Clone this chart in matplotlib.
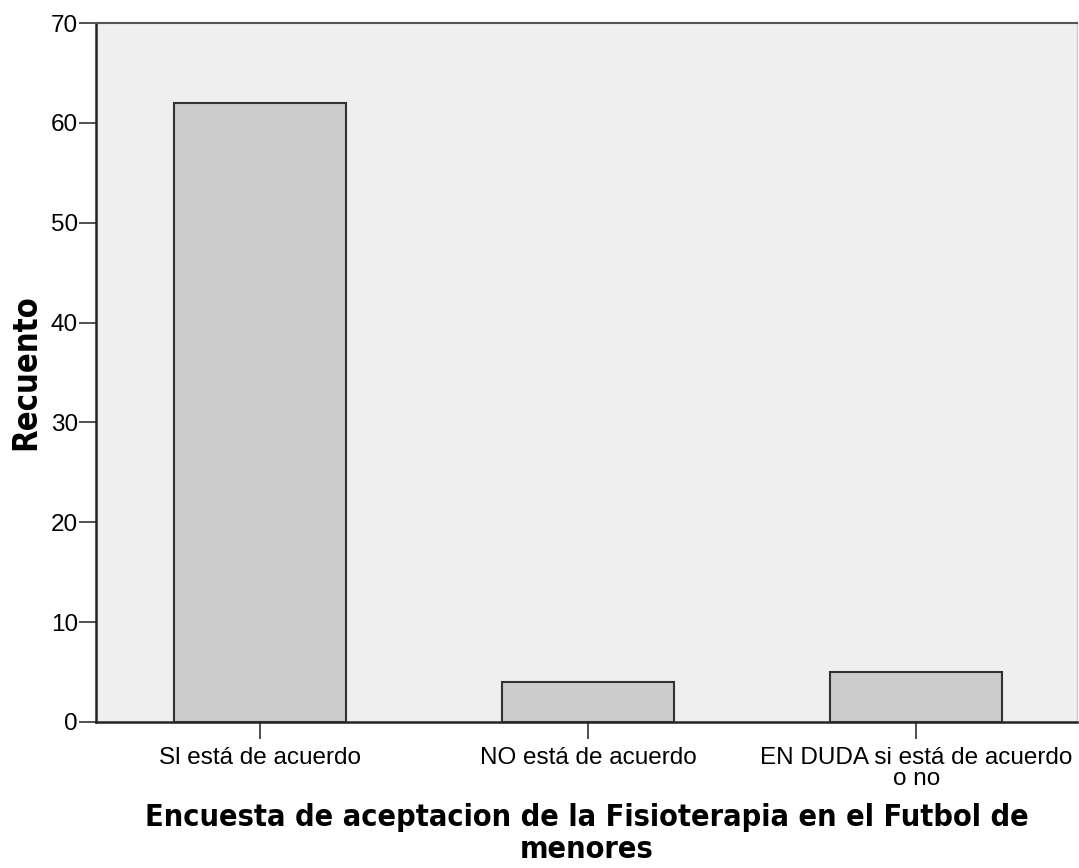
import matplotlib
matplotlib.use("Agg")
import matplotlib.pyplot as plt

categories = ["Sl está de acuerdo", "NO está de acuerdo", "EN DUDA si está de acuerdo\no no"]
counts = [62, 4, 5]
yticks = [0, 10, 20, 30, 40, 50, 60, 70]

fig = plt.figure(figsize=(10.79, 8.68), dpi=100)
ax = fig.add_axes([96/1079, 146/868, (1077-96)/1079, (722-23)/868])
ax.set_facecolor("#efefef")

x = list(range(len(categories)))
ax.bar(x, counts, width=0.525, color="#cccccc", edgecolor="#333333", linewidth=1.5, zorder=3)

ax.set_xlim(-0.5, 2.49)
ax.set_ylim(0, 70)
ax.set_yticks(yticks)
ax.set_xticks(x)
ax.set_xticklabels(categories, fontfamily="Liberation Sans", fontsize=17.5, linespacing=0.95)
for lab in ax.get_yticklabels():
    lab.set_fontfamily("Liberation Sans")
    lab.set_fontsize(17.5)

ax.tick_params(axis="y", length=12, width=1.2, color="#333333", pad=1, direction="out")
ax.tick_params(axis="x", length=12, width=1.2, color="#333333", pad=6, direction="out")

for s in ["left", "bottom"]:
    ax.spines[s].set_color("#222222")
    ax.spines[s].set_linewidth(1.8)
ax.spines["top"].set_color("#555555")
ax.spines["top"].set_linewidth(1.5)
ax.spines["right"].set_color("#cccccc")
ax.spines["right"].set_linewidth(1.0)

ax.set_ylabel("Recuento", fontsize=23.5, fontweight="bold", fontfamily="DejaVu Sans",
              fontstretch="condensed", labelpad=6)
ax.set_xlabel("Encuesta de aceptacion de la Fisioterapia en el Futbol de\nmenores",
              fontsize=22, fontweight="bold", fontfamily="DejaVu Sans", fontstretch="condensed",
              labelpad=9, linespacing=1.15)

fig.savefig("out.png", dpi=100)
